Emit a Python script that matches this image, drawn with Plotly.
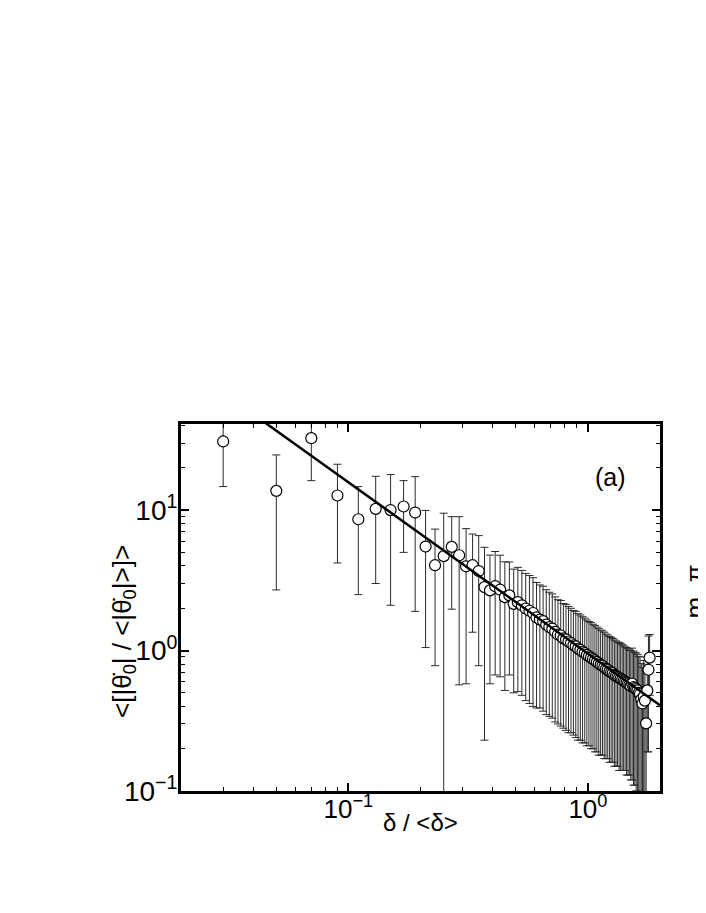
import math
import plotly.graph_objects as go

# binned data: delta/<delta> vs normalised angular velocity, with std error bars
x_vals = [0.03, 0.05, 0.07, 0.09, 0.11, 0.13, 0.15, 0.17, 0.19, 0.21,
          0.23, 0.25, 0.27, 0.29, 0.31, 0.33, 0.35, 0.37, 0.39, 0.41,
          0.43, 0.45, 0.47, 0.49, 0.51, 0.53, 0.55, 0.57, 0.59, 0.61,
          0.63, 0.65, 0.67, 0.69, 0.71, 0.73, 0.75, 0.77, 0.79, 0.81,
          0.83, 0.85, 0.87, 0.89, 0.91, 0.93, 0.95, 0.97, 0.99, 1.01,
          1.03, 1.05, 1.07, 1.09, 1.11, 1.13, 1.15, 1.17, 1.19, 1.21,
          1.23, 1.25, 1.27, 1.29, 1.31, 1.33, 1.35, 1.37, 1.39, 1.41,
          1.43, 1.45, 1.47, 1.49, 1.51, 1.53, 1.55, 1.57, 1.59, 1.61,
          1.63, 1.65, 1.67, 1.69, 1.71, 1.73, 1.75, 1.77, 1.79, 1.81]

y_vals = [30.8, 13.7, 32.5, 12.7, 8.6, 10.2, 10.0, 10.6, 9.6, 5.5,
          4.05, 4.7, 5.47, 4.77, 3.98, 4.05, 3.68, 2.83, 2.68, 2.87,
          2.71, 2.40, 2.47, 2.15, 2.21, 2.10, 1.99, 1.92, 1.85, 1.72,
          1.66, 1.62, 1.53, 1.47, 1.43, 1.36, 1.30, 1.28, 1.22, 1.20,
          1.16, 1.13, 1.09, 1.07, 1.03, 1.01, 0.98, 0.96, 0.93, 0.91,
          0.89, 0.87, 0.85, 0.83, 0.81, 0.79, 0.78, 0.76, 0.74, 0.73,
          0.71, 0.70, 0.69, 0.67, 0.66, 0.65, 0.64, 0.63, 0.62, 0.61,
          0.60, 0.59, 0.58, 0.57, 0.56, 0.58, 0.55, 0.54, 0.53, 0.52,
          0.50, 0.49, 0.45, 0.42, 0.47, 0.44, 0.303, 0.52, 0.73, 0.89]

y_err = [16.1, 11.0, 16.3, 8.5, 6.1, 7.2, 7.9, 5.6, 7.7, 4.45,
         3.27, 4.8, 3.5, 4.2, 3.4, 2.7, 2.9, 2.6, 2.1, 2.2,
         2.06, 1.88, 1.8, 1.65, 1.7, 1.62, 1.55, 1.5, 1.45, 1.33,
         1.27, 1.25, 1.18, 1.13, 1.1, 1.05, 1.0, 0.99, 0.94, 0.93,
         0.9, 0.87, 0.84, 0.83, 0.8, 0.78, 0.76, 0.74, 0.72, 0.7,
         0.69, 0.67, 0.66, 0.64, 0.63, 0.61, 0.6, 0.59, 0.57, 0.56,
         0.55, 0.54, 0.53, 0.52, 0.51, 0.5, 0.5, 0.49, 0.48, 0.47,
         0.46, 0.46, 0.45, 0.44, 0.44, 0.46, 0.44, 0.43, 0.43, 0.42,
         0.41, 0.41, 0.36, 0.34, 0.38, 0.35, 0.22, 0.33, 0.54, 0.41]

# power-law fit  y = A * x^B
fit_a = 0.95
fit_b = -1.22
fit_x = [0.02, 2.0]
fit_y = [fit_a * v ** fit_b for v in fit_x]

x_ticks = [0.1, 1]
x_ticktext = ["10<sup>\u22121</sup>", "10<sup>0</sup>"]
x_minor = [0.03, 0.04, 0.05, 0.06, 0.07, 0.08, 0.09,
           0.2, 0.3, 0.4, 0.5, 0.6, 0.7, 0.8, 0.9, 2]
y_ticks = [0.1, 1, 10]
y_ticktext = ["10<sup>\u22121</sup>", "10<sup>0</sup>", "10<sup>1</sup>"]
y_minor = [0.2, 0.3, 0.4, 0.5, 0.6, 0.7, 0.8, 0.9,
           2, 3, 4, 5, 6, 7, 8, 9, 20, 30, 40]

FONT = "Liberation Sans, Arial, Helvetica, sans-serif"

fig = go.Figure()
fig.add_trace(go.Scatter(
    x=x_vals, y=y_vals,
    mode="markers",
    marker=dict(symbol="circle", size=11, color="white",
                line=dict(color="black", width=1.2)),
    error_y=dict(type="data", array=y_err, visible=True,
                 color="#2a2a2a", thickness=1, width=4),
    showlegend=False,
))
fig.add_trace(go.Scatter(
    x=fit_x, y=fit_y, mode="lines",
    line=dict(color="black", width=2.5),
    showlegend=False,
))

axis_common = dict(
    type="log", showgrid=False, zeroline=False,
    showline=True, linecolor="black", linewidth=3, mirror="ticks",
    ticks="inside", ticklen=8, tickwidth=1.5, tickcolor="black",
    tickmode="array",
)

fig.update_xaxes(
    **axis_common,
    range=[math.log10(0.02), math.log10(2.0)],
    tickvals=x_ticks, ticktext=x_ticktext,
    tickfont=dict(family=FONT, size=26, color="black"),
    ticklabelstandoff=-7,
    minor=dict(ticks="inside", ticklen=4, tickwidth=1.2, tickcolor="black",
               tickmode="array", tickvals=x_minor, showgrid=False),
)
fig.update_yaxes(
    **axis_common,
    range=[-1, math.log10(41)],
    tickvals=y_ticks, ticktext=y_ticktext,
    tickfont=dict(family=FONT, size=28, color="black"),
    ticklabelstandoff=-5,
    minor=dict(ticks="inside", ticklen=4, tickwidth=1.2, tickcolor="black",
               tickmode="array", tickvals=y_minor, showgrid=False),
)

# page body has an 8px margin, so margins are offset to land the frame
fig.update_layout(
    width=706, height=913,
    margin=dict(l=173, r=54, t=416, b=130),
    plot_bgcolor="white", paper_bgcolor="white",
    font=dict(family=FONT, color="black"),
    annotations=[
        dict(text="\u03b4 / &lt;\u03b4&gt;", xref="paper", yref="paper",
             x=0.5, y=-0.087, xanchor="center", yanchor="middle",
             showarrow=False, font=dict(size=24)),
        dict(text="&lt;[|\u03b8\u0307<sub>0</sub>| / &lt;|\u03b8\u0307<sub>0</sub>|&gt;]&gt;",
             xref="paper", yref="paper", x=-0.119, y=0.436,
             xanchor="center", yanchor="middle", textangle=-90,
             showarrow=False, font=dict(size=26)),
        dict(text="(a)", xref="paper", yref="paper", x=0.896, y=0.856,
             xanchor="center", yanchor="middle", showarrow=False,
             font=dict(size=25)),
        dict(text="m, \u03c0", xref="paper", yref="paper", x=1.072, y=0.545,
             xanchor="center", yanchor="middle", textangle=-90,
             showarrow=False, font=dict(size=26)),
    ],
)

fig.write_html("out.html")
